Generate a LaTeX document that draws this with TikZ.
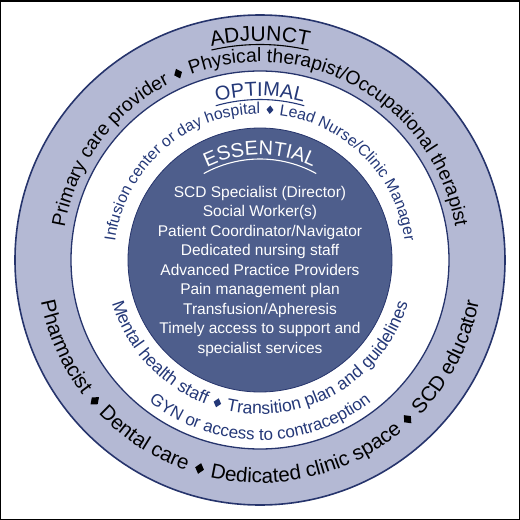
\documentclass[tikz,border=0pt]{standalone}
\usepackage{fontspec}
\setmainfont{Liberation Sans}
\usepackage{graphicx}
\usetikzlibrary{decorations.text,calc}
\definecolor{navy}{RGB}{38,52,108}
\definecolor{ringfill}{RGB}{180,185,212}
\definecolor{corefill}{RGB}{78,94,140}
\definecolor{navytext}{RGB}{36,56,120}
\newcommand\dmd{\hspace{0.1em}\raisebox{0.02em}{\scalebox{0.82}[1]{\rotatebox{45}{\rule{0.38em}{0.38em}}}}\hspace{0.1em}}
\begin{document}
\begin{tikzpicture}[x=1pt,y=1pt,
  arctext/.style={decorate, decoration={text along path, text align=center, #1}},
  ring/.style={circle, draw=navy, inner sep=0pt},
  uline/.style={line width=1.1pt}
]
\useasboundingbox (-260,-260) rectangle (260,260);
\draw[line width=1.5pt] (-259.25,-259.25) rectangle (259.25,259.25);
\node[ring, line width=1.6pt, fill=ringfill, minimum size=490pt] (outer) at (0,0) {};
\node[ring, line width=1.3pt, fill=white, minimum size=378pt] (mid) at (0,0) {};
\node[ring, line width=0.8pt, fill=corefill, minimum size=264pt] (core) at (0,0) {};

% outer ring
\path[arctext={text={|\fontsize{19.3}{20}\selectfont|Primary care provider {\dmd} Physical therapist/Occupational therapist}}]
  (200:198) arc[start angle=200, end angle=-20, radius=198];
\path[arctext={text={|\fontsize{20.6}{22}\selectfont|Pharmacist {\dmd} Dental care {\dmd} Dedicated clinic space {\dmd} SCD educator}}]
  (-190:223) arc[start angle=-190, end angle=10, radius=223];
\path[arctext={text={|\fontsize{21}{22}\selectfont|ADJUNCT}}]
  (120:219) arc[start angle=120, end angle=60, radius=219];
\draw[uline] (103:215.5) arc[start angle=103, end angle=77, radius=215.5];

% middle ring
\path[arctext={text color=navytext, text={|\fontsize{15.8}{17}\selectfont|Infusion center or day hospital {\dmd} Lead Nurse/Clinic Manager}}]
  (200:146) arc[start angle=200, end angle=-20, radius=146];
\path[arctext={text color=navytext, text={|\fontsize{17.5}{18}\selectfont|Mental health staff {\dmd} Transition plan and guidelines}}]
  (-180:154) arc[start angle=-180, end angle=0, radius=154];
\path[arctext={text color=navytext, text={|\fontsize{17}{18}\selectfont|GYN or access to contraception}}]
  (-150:180) arc[start angle=-150, end angle=-30, radius=180];
\path[arctext={text color=navytext, text={|\fontsize{20}{21}\selectfont|OPTIMAL}}]
  (120:164) arc[start angle=120, end angle=60, radius=164];
\draw[uline, navytext] (106:160.5) arc[start angle=106, end angle=74, radius=160.5];

% core
\path[arctext={text color=white, text={|\fontsize{20}{21}\selectfont|ESSENTIAL}}]
  ($(0,-15)+(130:120)$) arc[start angle=130, end angle=50, radius=120];
\draw[uline, white] ($(0,-15)+(119:116)$) arc[start angle=119, end angle=61, radius=116];
\node[text=white, align=center, font=\fontsize{15.5}{19.5}\selectfont, inner sep=0pt] (list) at (0,-11)
  {SCD Specialist (Director)\\ Social Worker(s)\\ Patient Coordinator/Navigator\\ Dedicated nursing staff\\ Advanced Practice Providers\\ Pain management plan\\ Transfusion/Apheresis\\ Timely access to support and\\ specialist services};
\end{tikzpicture}
\end{document}
